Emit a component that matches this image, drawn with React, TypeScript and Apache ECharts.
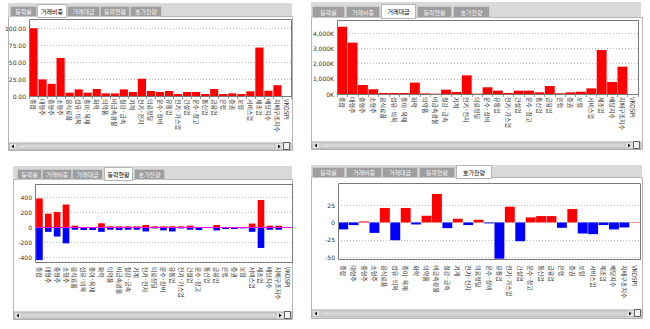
import React, { useEffect, useRef } from "react";
import * as echarts from "echarts";

const categories = [
  "종합", "대형주", "중형주", "소형주", "음식료품", "섬유·의복", "종이·목재", "화학",
  "의약품", "비금속광물", "철강·금속", "기계", "전기·전자", "의료정밀", "운수·장비",
  "유통업", "전기·가스업", "건설업", "운수·창고", "통신업", "금융업", "은행", "증권",
  "보험", "서비스업", "제조업", "배당지수", "지배구조지수", "VKOSPI",
];
const tabNames = ["등락률", "거래비중", "거래대금", "등락현황", "호가잔량"];

// 거래비중 (%)
const tradeShare = [100, 24.5, 18, 56, 4.9, 9.8, 4.9, 10.3, 3.9, 3.9, 9.8, 5.9, 25.5, 7.4, 5.9, 7.4, 2.9, 5.9, 5.9, 2.9, 10.3, 2.9, 3.9, 2.9, 6.9, 71.6, 7.8, 16, 0];
// 거래대금 (K)
const tradeValueK = [4410, 3365, 590, 310, 65, 65, 65, 745, 44, 22, 285, 130, 1225, 22, 440, 220, 65, 220, 220, 110, 525, 44, 110, 150, 370, 2885, 790, 1790, 0];
// 등락현황
const advancers = [390, 187, 209, 309, 27, 9, 9, 59, 18, 18, 18, 18, 36, 18, 18, 18, 18, 27, 9, 9, 36, 9, 9, 9, 55, 369, 27, 27, 0];
const decliners = [-432, -55, -118, -209, -27, -32, -32, -55, -27, -32, -27, -27, -50, -9, -36, -50, -9, -27, -32, -5, -36, -18, -18, -9, -55, -270, -27, -27, 0];
// 호가잔량
const orderBalance = [-10, -3.8, 1.4, -15, 20.7, -25.5, 20.7, -2.9, 9.6, 40.9, -8.2, 5.3, -3.8, 3.8, -1.4, -52, 22.6, -27, 7.2, 9.1, 9.1, -7.7, 19.2, -15.9, -16.8, -3.8, -10, -7.2, 0.5];

const KR = '"Noto Sans CJK KR", sans-serif';

type PanelDef = {
  tabBar: number[];
  tabs: number[][];
  tabY: number;
  tabH: number;
  active: number;
  body: number[];
  frame: number[];
  scroll: number[];
};

const panels: PanelDef[] = [
  { tabBar: [8, 3, 284, 13], tabs: [[10, 27], [37, 30], [67, 33], [100, 30], [130, 32]], tabY: 6, tabH: 10, active: 1, body: [8, 16, 284, 134], frame: [29, 19, 262, 77], scroll: [9, 143, 282, 7] },
  { tabBar: [311, 2, 330, 15], tabs: [[312, 33], [346, 34], [381, 35], [417, 35], [453, 37]], tabY: 6, tabH: 11, active: 2, body: [311, 17, 331, 132], frame: [337, 20, 301, 74], scroll: [312, 142, 329, 7] },
  { tabBar: [13, 166, 279, 13], tabs: [[17, 25], [42, 30], [72, 31], [104, 29], [134, 31]], tabY: 169, tabH: 10, active: 3, body: [13, 179, 279, 140], frame: [35, 184, 257, 78], scroll: [14, 312, 278, 7] },
  { tabBar: [311, 165, 331, 12], tabs: [[312, 33], [346, 36], [382, 36], [419, 36], [456, 36]], tabY: 167, tabH: 10, active: 4, body: [311, 177, 331, 141], frame: [338, 183, 302, 76], scroll: [312, 310, 330, 7] },
];

function buildGraphics() {
  const els: any[] = [];
  panels.forEach((p) => {
    const [bx, by, bw, bh] = p.body;
    els.push({ type: "rect", z: 1, shape: { x: bx + 0.5, y: by + 0.5, width: bw, height: bh }, style: { fill: "none", stroke: "#b4b4b4", lineWidth: 1 } });
    const [tx, ty, tw, th] = p.tabBar;
    els.push({ type: "rect", z: 1, shape: { x: tx, y: ty, width: tw, height: th }, style: { fill: "#d9d9d9" } });
    p.tabs.forEach(([x, w], i) => {
      const active = i === p.active;
      const y = active ? p.tabY - 2 : p.tabY;
      const h = active ? ty + th - y + 1 : p.tabH;
      els.push({ type: "rect", z: 2, shape: { x: x + 0.5, y: y + 0.5, width: w - 1, height: h }, style: { fill: active ? "#ffffff" : "#9e9e9e", stroke: active ? "#b4b4b4" : "#c8c8c8", lineWidth: 1 } });
      els.push({ type: "text", z: 3, style: { text: tabNames[i], x: x + w / 2, y: y + h / 2 + 0.5, fill: active ? "#000" : "#f4f4f4", font: `6px ${KR}`, fontSize: 6, fontFamily: KR, align: "center", textAlign: "center", verticalAlign: "middle", textVerticalAlign: "middle" } });
    });
    const [fx, fy, fw, fh] = p.frame;
    els.push({ type: "rect", z: 10, shape: { x: fx + 0.5, y: fy + 0.5, width: fw, height: fh }, style: { fill: "none", stroke: "#7a7a7a", lineWidth: 1 } });
    const [sx, sy, sw, sh] = p.scroll;
    els.push({ type: "rect", z: 2, shape: { x: sx, y: sy, width: sw, height: sh }, style: { fill: "#e2e2e2", stroke: "#a8a8a8", lineWidth: 1 } });
    els.push({ type: "rect", z: 3, shape: { x: sx + 8, y: sy + 1, width: sw - 24, height: sh - 2 }, style: { fill: "#d6d6d6", stroke: "#bdbdbd", lineWidth: 1 } });
    els.push({ type: "polygon", z: 4, shape: { points: [[sx + 5, sy + 1.5], [sx + 5, sy + sh - 1.5], [sx + 2.5, sy + sh / 2]] }, style: { fill: "#000" } });
    els.push({ type: "polygon", z: 4, shape: { points: [[sx + sw - 13, sy + 1.5], [sx + sw - 13, sy + sh - 1.5], [sx + sw - 10.5, sy + sh / 2]] }, style: { fill: "#000" } });
    els.push({ type: "rect", z: 4, shape: { x: sx + sw - 7.5, y: sy - 0.5, width: 6, height: sh }, style: { fill: "#f4f4f4", stroke: "#606060", lineWidth: 1 } });
  });
  return els;
}

const grids = [
  { left: 29, top: 28.3, width: 262, height: 67.7 },
  { left: 337, top: 33, width: 301, height: 61 },
  { left: 35, top: 197.7, width: 257, height: 60 },
  { left: 338, top: 205, width: 302, height: 52.3 },
];

export default function App() {
  const ref = useRef<HTMLDivElement>(null);
  useEffect(() => {
    if (!ref.current) return;
    const chart = echarts.init(ref.current, null, { renderer: "svg" });
    const labelMargins = [3, 3, 9, 8];
    const xAxes = grids.map((_, i) => ({
      type: "category",
      gridIndex: i,
      data: categories,
      position: "bottom",
      axisLine: { show: false, onZero: false },
      axisTick: { show: i < 2, length: 3, lineStyle: { color: "#999" } },
      axisLabel: { interval: 0, rotate: -90, fontSize: 6, fontFamily: KR, color: "#333", margin: labelMargins[i] },
      splitLine: { show: false },
    }));
    const yCfg = [
      { min: 0, max: 100, interval: 25, fmt: (v: number) => v.toFixed(2) },
      { min: 0, max: 4000, interval: 1000, fmt: (v: number) => v.toLocaleString("en-US") + "K" },
      { min: -400, max: 400, interval: 200, fmt: (v: number) => String(v) },
      { min: -50, max: 25, interval: 25, fmt: (v: number) => String(v) },
    ];
    const yAxes = yCfg.map((c, i) => ({
      type: "value",
      gridIndex: i,
      min: c.min,
      max: c.max,
      interval: c.interval,
      axisLine: { show: false },
      axisTick: { show: false },
      axisLabel: { fontSize: 6, fontFamily: "DejaVu Sans", color: "#333", margin: 3, formatter: c.fmt },
      splitLine: { show: true, lineStyle: { color: "#bdbdbd", type: [1, 2], width: 1 } },
    }));
    chart.setOption({
      animation: false,
      backgroundColor: "#ffffff",
      grid: grids.map((g) => ({ ...g, containLabel: false, outerBoundsMode: "none" })),
      xAxis: xAxes,
      yAxis: yAxes,
      graphic: { elements: buildGraphics() },
      series: [
        { type: "bar", xAxisIndex: 0, yAxisIndex: 0, data: tradeShare, barCategoryGap: "10%", clip: false, itemStyle: { color: "#ff0000" } },
        { type: "bar", xAxisIndex: 1, yAxisIndex: 1, data: tradeValueK, barCategoryGap: "5%", clip: false, itemStyle: { color: "#ff0000" } },
        {
          type: "bar", xAxisIndex: 2, yAxisIndex: 2, data: advancers, barCategoryGap: "25%", barGap: "-100%", clip: false,
          itemStyle: { color: "#ff0000" },
          markLine: { silent: true, symbol: "none", label: { show: false }, lineStyle: { color: "#ff00ff", type: "solid", width: 1 }, data: [{ yAxis: 0 }] },
        },
        { type: "bar", xAxisIndex: 2, yAxisIndex: 2, data: decliners, barCategoryGap: "25%", barGap: "-100%", clip: false, itemStyle: { color: "#0000ff" } },
        {
          type: "bar", xAxisIndex: 3, yAxisIndex: 3, data: orderBalance, barCategoryGap: "5%", clip: false,
          itemStyle: { color: (p: any) => (p.value >= 0 ? "#ff0000" : "#0000ff") },
        },
      ],
    });
    return () => chart.dispose();
  }, []);
  return <div ref={ref} style={{ position: "fixed", left: 0, top: 0, width: 650, height: 329, background: "#fff" }} />;
}
